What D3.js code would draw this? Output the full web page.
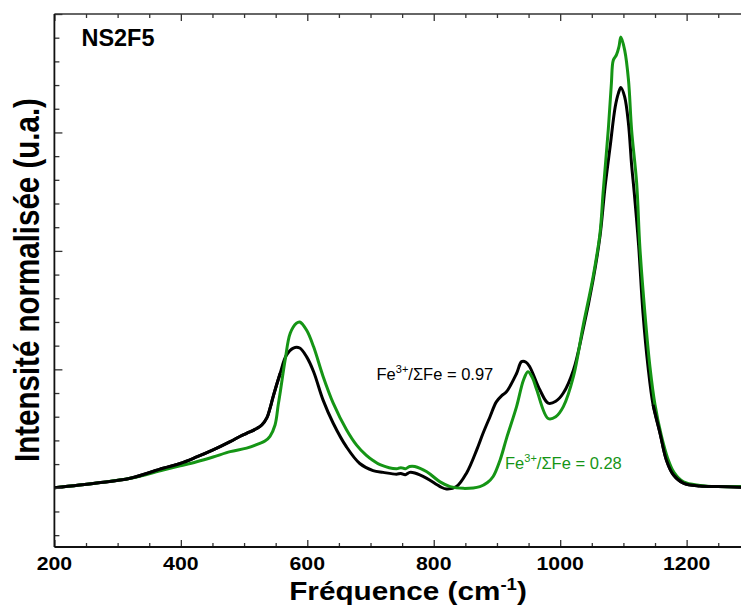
<!DOCTYPE html>
<html>
<head>
<meta charset="utf-8">
<script src="https://cdn.jsdelivr.net/npm/d3@7"></script>
<style>
  html, body { margin: 0; padding: 0; background: #fff; }
  svg { display: block; }
  text { font-family: "Liberation Sans", Arial, Helvetica, sans-serif; }
</style>
</head>
<body>
<svg id="chart" width="741" height="609"></svg>
<script>
// ---- Data ----
const freqBlack = [200, 267, 320, 372, 399, 425, 451, 478, 494, 504, 520, 528, 536, 541, 546, 557, 567, 578, 588, 599, 610, 625, 641, 662, 683, 704, 720, 741, 748, 755, 762, 770, 789, 810, 820, 836, 852, 868, 878, 889, 899, 908, 915, 931, 939, 946, 952, 968, 981, 993, 1005, 1021, 1036, 1052, 1063, 1071, 1079, 1087, 1092, 1096, 1102, 1108, 1113, 1117, 1124, 1131, 1139, 1147, 1158, 1168, 1179, 1195, 1221, 1250, 1286];
const valBlack  = [0.000, 0.008, 0.016, 0.033, 0.041, 0.052, 0.064, 0.078, 0.087, 0.092, 0.100, 0.106, 0.118, 0.134, 0.154, 0.193, 0.224, 0.236, 0.236, 0.221, 0.196, 0.148, 0.109, 0.069, 0.041, 0.029, 0.026, 0.023, 0.024, 0.022, 0.026, 0.025, 0.016, 0.002, -0.002, 0.002, 0.025, 0.064, 0.092, 0.120, 0.145, 0.156, 0.162, 0.193, 0.213, 0.212, 0.204, 0.165, 0.143, 0.146, 0.160, 0.199, 0.266, 0.351, 0.425, 0.508, 0.576, 0.643, 0.666, 0.676, 0.660, 0.615, 0.545, 0.500, 0.410, 0.295, 0.204, 0.140, 0.092, 0.047, 0.022, 0.008, 0.003, 0.002, 0.001];

const freqGreen = [200, 267, 320, 372, 399, 425, 451, 478, 504, 525, 533, 541, 549, 554, 557, 565, 573, 583, 588, 599, 610, 625, 641, 662, 678, 693, 704, 715, 741, 748, 755, 762, 770, 789, 810, 826, 847, 873, 885, 894, 905, 915, 931, 942, 949, 956, 963, 981, 993, 1005, 1021, 1036, 1052, 1063, 1068, 1076, 1081, 1084, 1089, 1093, 1096, 1102, 1108, 1113, 1121, 1126, 1134, 1142, 1150, 1160, 1170, 1180, 1195, 1221, 1250, 1286];
const valGreen  = [0.000, 0.008, 0.016, 0.030, 0.037, 0.044, 0.052, 0.061, 0.067, 0.075, 0.079, 0.087, 0.106, 0.140, 0.160, 0.216, 0.261, 0.278, 0.280, 0.266, 0.238, 0.188, 0.143, 0.098, 0.072, 0.055, 0.046, 0.039, 0.032, 0.034, 0.032, 0.036, 0.036, 0.027, 0.010, 0.002, -0.001, 0.002, 0.009, 0.019, 0.047, 0.083, 0.137, 0.182, 0.196, 0.186, 0.165, 0.117, 0.120, 0.137, 0.188, 0.272, 0.356, 0.430, 0.500, 0.604, 0.683, 0.722, 0.731, 0.745, 0.761, 0.739, 0.689, 0.604, 0.514, 0.407, 0.295, 0.204, 0.140, 0.088, 0.050, 0.026, 0.010, 0.004, 0.002, 0.002];

const xMajorTicks = [200, 400, 600, 800, 1000, 1200];
const xMinorTicks = [250, 300, 350, 450, 500, 550, 650, 700, 750, 850, 900, 950, 1050, 1100, 1150, 1250];
const yMajorTicks = [0, 0.2, 0.4, 0.6, 0.8];
const yMinorTicks = [-0.08, -0.04, 0.04, 0.08, 0.12, 0.16, 0.24, 0.28, 0.32, 0.36, 0.44, 0.48, 0.52, 0.56, 0.64, 0.68, 0.72, 0.76];
const xTickLabels = ["200", "400", "600", "800", "1000", "1200"];

const titleText = "NS2F5";
const xTitle = "Fréquence (cm";
const xTitleSup = "-1";
const yTitle = "Intensité normalisée (u.a.)";
const labelBlack = { pre: "Fe", sup: "3+", post: "/ΣFe = 0.97" };
const labelGreen = { pre: "Fe", sup: "3+", post: "/ΣFe = 0.28" };

// ---- Layout ----
const colorGreen = "#159515";
const svg = d3.select("#chart");
const pL = 54.4, pR = 741, pT = 14, pB = 547;

const x = d3.scaleLinear().domain([200, 1286]).range([pL, pR]);
const y = d3.scaleLinear().domain([-0.1, 0.8]).range([pB, pT]);

svg.append("defs").append("clipPath").attr("id", "plotclip")
  .append("rect").attr("x", pL).attr("y", pT).attr("width", pR - pL).attr("height", pB - pT);

// ---- Curves ----
const line = d3.line().x(d => x(d[0])).y(d => y(d[1])).curve(d3.curveCatmullRom.alpha(0.5));
const plot = svg.append("g").attr("clip-path", "url(#plotclip)");

plot.append("path")
  .datum(freqBlack.map((f, i) => [f, valBlack[i]]))
  .attr("fill", "none").attr("stroke", "#000").attr("stroke-width", 3)
  .attr("stroke-linejoin", "round").attr("d", line);

plot.append("path")
  .datum(freqGreen.map((f, i) => [f, valGreen[i]]))
  .attr("fill", "none").attr("stroke", colorGreen).attr("stroke-width", 3)
  .attr("stroke-linejoin", "round").attr("d", line);

// black drawn on top in the low-frequency and tail regions
plot.append("path")
  .datum(freqBlack.map((f, i) => [f, valBlack[i]]).filter(d => d[0] <= 560))
  .attr("fill", "none").attr("stroke", "#000").attr("stroke-width", 3)
  .attr("stroke-linejoin", "round").attr("d", line);
plot.append("path")
  .datum(freqBlack.map((f, i) => [f, valBlack[i]]).filter(d => d[0] >= 1140))
  .attr("fill", "none").attr("stroke", "#000").attr("stroke-width", 3)
  .attr("stroke-linejoin", "round").attr("d", line);

// ---- Axes ----
function styleAxis(g, color, sw) {
  g.select(".domain").remove();
  g.selectAll(".tick line").attr("stroke", color).attr("stroke-width", sw);
  g.selectAll(".tick text").remove();
}
const axisColor = "#333";

svg.append("g").attr("transform", `translate(0,${pB})`)
  .call(d3.axisBottom(x).tickValues(xMajorTicks).tickSize(-7).tickFormat(""))
  .call(g => styleAxis(g, axisColor, 1.3));
svg.append("g").attr("transform", `translate(0,${pB})`)
  .call(d3.axisBottom(x).tickValues(xMinorTicks).tickSize(-4).tickFormat(""))
  .call(g => styleAxis(g, axisColor, 1.3));
svg.append("g").attr("transform", `translate(0,${pT})`)
  .call(d3.axisTop(x).tickValues(xMajorTicks).tickSize(-7).tickFormat(""))
  .call(g => styleAxis(g, axisColor, 1.3));
svg.append("g").attr("transform", `translate(0,${pT})`)
  .call(d3.axisTop(x).tickValues(xMinorTicks).tickSize(-4).tickFormat(""))
  .call(g => styleAxis(g, axisColor, 1.3));
svg.append("g").attr("transform", `translate(${pL},0)`)
  .call(d3.axisLeft(y).tickValues(yMajorTicks).tickSize(-8).tickFormat(""))
  .call(g => styleAxis(g, axisColor, 1.3));
svg.append("g").attr("transform", `translate(${pL},0)`)
  .call(d3.axisLeft(y).tickValues(yMinorTicks).tickSize(-5).tickFormat(""))
  .call(g => styleAxis(g, axisColor, 1.3));

svg.append("line").attr("x1", pL).attr("x2", pR).attr("y1", pB).attr("y2", pB)
  .attr("stroke", "#111").attr("stroke-width", 1.8);
svg.append("line").attr("x1", pL).attr("x2", pR).attr("y1", pT).attr("y2", pT)
  .attr("stroke", "#333").attr("stroke-width", 1.5);
svg.append("line").attr("x1", pL).attr("x2", pL).attr("y1", pT).attr("y2", pB)
  .attr("stroke", "#111").attr("stroke-width", 1.8);

// tick labels
svg.append("g").selectAll("text").data(xMajorTicks).join("text")
  .attr("transform", (d) => `translate(${x(d)},570) scale(1.15,1)`)
  .attr("text-anchor", "middle")
  .attr("font-size", 18.5).attr("font-weight", "bold").attr("fill", "#000")
  .text((d, i) => xTickLabels[i]);

// x title
const xt = svg.append("text")
  .attr("transform", "translate(408,600) scale(1.16,1)")
  .attr("text-anchor", "middle")
  .attr("font-size", 25.6).attr("font-weight", "bold").attr("fill", "#000");
xt.append("tspan").text(xTitle);
xt.append("tspan").attr("font-size", 16).attr("dy", -10).text(xTitleSup);
xt.append("tspan").attr("dy", 10).text(")");

// y title
svg.append("text")
  .attr("transform", "translate(39,280) scale(1.2,1) rotate(-90)")
  .attr("text-anchor", "middle")
  .attr("font-size", 29.5).attr("font-weight", "bold").attr("fill", "#000")
  .text(yTitle);

// panel title
svg.append("text")
  .attr("transform", "translate(81.5,46) scale(1.02,1)")
  .attr("font-size", 23).attr("font-weight", "bold").attr("fill", "#000")
  .text(titleText);

// annotations
function annot(lbl, px, py, color) {
  const t = svg.append("text").attr("x", px).attr("y", py)
    .attr("font-size", 16.5).attr("fill", color);
  t.append("tspan").text(lbl.pre);
  t.append("tspan").attr("font-size", 11).attr("dy", -6.5).text(lbl.sup);
  t.append("tspan").attr("dy", 6.5).text(lbl.post);
}
annot(labelBlack, 376.5, 379.5, "#000");
annot(labelGreen, 505, 468.5, colorGreen);
</script>
</body>
</html>
